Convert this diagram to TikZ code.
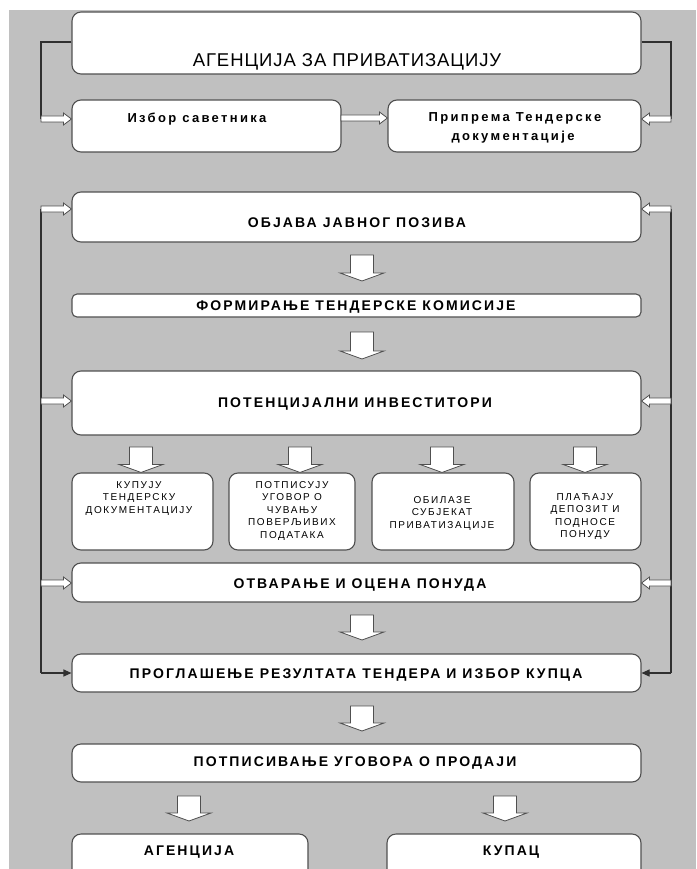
\documentclass[tikz,border=0pt]{standalone}
\usepackage{fontspec}
\setmainfont{Liberation Sans}
\newfontfamily\titlef[LetterSpace=5]{Liberation Sans}
\newfontfamily\headf[LetterSpace=15]{Liberation Sans}
\newfontfamily\lowf[LetterSpace=18]{Liberation Sans}
\newfontfamily\smallf[LetterSpace=16]{Liberation Sans}
\usetikzlibrary{arrows.meta,calc}
\definecolor{bgc}{HTML}{C0C0C0}
\definecolor{edgec}{HTML}{505050}
\definecolor{linec}{HTML}{303030}
\tikzset{
  box/.style={draw=edgec, line width=1.1pt, fill=white, rounded corners=9pt, inner sep=0pt},
  thinbox/.style={box, rounded corners=5pt},
  conn/.style={draw=linec, line width=1.1pt},
  blk/.style={draw=edgec, line width=0.8pt, fill=white, line join=miter},
  headt/.style={font=\headf\bfseries\fontsize{14}{16}\selectfont, inner sep=0pt, anchor=base},
  lowt/.style={font=\lowf\bfseries\fontsize{13}{15}\selectfont, inner sep=0pt, anchor=base},
  titlet/.style={font=\titlef\fontsize{18.5}{20}\selectfont, inner sep=0pt, anchor=base},
  smallt/.style={font=\smallf\fontsize{10}{12.5}\selectfont, align=center, inner sep=0pt, anchor=north},
}
\newcommand\mkbox[6][box]{%
  \node[#1, minimum width={(#4-#2)*1pt}, minimum height={(#5-#3)*1pt}] (#6) at ({(#2+#4)/2},{(#3+#5)/2}) {};}
\newcommand\harrow[2]{%
  \path[blk] let \p1=(#1), \p2=(#2), \n1={\x2-8pt*sign(\x2-\x1)} in
   (\x1,\y1+3pt) -- (\n1,\y1+3pt) -- (\n1,\y1+6pt) -- (\x2,\y1) -- (\n1,\y1-6pt) -- (\n1,\y1-3pt) -- (\x1,\y1-3pt) -- cycle;}
\newcommand\varrow[2]{%
  \path[blk] let \p1=(#1), \p2=(#2) in
   (\x1-11.5pt,\y1) -- (\x1+11.5pt,\y1) -- (\x1+11.5pt,\y2+8pt) -- (\x1+22pt,\y2+8pt) -- (\x1,\y2) -- (\x1-22pt,\y2+8pt) -- (\x1-11.5pt,\y2+8pt) -- cycle;}
\begin{document}
\begin{tikzpicture}[x=1pt,y=-1pt]
\useasboundingbox (0,0) rectangle (696,869);
\fill[white] (0,0) rectangle (696,869);
\fill[bgc] (9,10) rectangle (696,869);
\begin{scope}
\clip (0,0) rectangle (696,869);
% boxes
\mkbox{72}{12}{641}{74}{title}
\mkbox{72}{100}{341}{152}{izbor}
\mkbox{388}{100}{641}{152}{prip}
\mkbox{72}{192}{641}{242}{objava}
\mkbox[thinbox]{72}{294}{641}{317}{form}
\mkbox{72}{371}{641}{435}{poten}
\mkbox{72}{473}{213}{550}{sa}
\mkbox{229}{473}{355}{550}{sb}
\mkbox{372}{473}{514}{550}{sc}
\mkbox{530}{473}{641}{550}{sd}
\mkbox{72}{563}{641}{602}{otvar}
\mkbox{72}{654}{641}{692}{progl}
\mkbox{72}{744}{641}{782}{potp}
\mkbox{72}{834}{308}{900}{agen}
\mkbox{387}{834}{641}{900}{kupac}
\end{scope}
% texts
\node[titlet] (titlet) at (347,66.5) {АГЕНЦИЈА ЗА ПРИВАТИЗАЦИЈУ};
\node[lowt] (izbort) at (197,122.5) {Избор саветника};
\node[lowt] (pript1) at (515,121.5) {Припрема Тендерске};
\node[lowt] (pript2) at (513,140.5) {документације};
\node[headt] (objavat) at (357,227) {ОБЈАВА ЈАВНОГ ПОЗИВА};
\node[headt] (formt) at (356,310.5) {ФОРМИРАЊЕ ТЕНДЕРСКЕ КОМИСИЈЕ};
\node[headt] (potent) at (355,407) {ПОТЕНЦИЈАЛНИ ИНВЕСТИТОРИ};
\node[smallt] (sat) at (139,481) {КУПУЈУ\\ТЕНДЕРСКУ\\ДОКУМЕНТАЦИЈУ};
\node[smallt] (sbt) at (292,481) {ПОТПИСУЈУ\\УГОВОР О\\ЧУВАЊУ\\ПОВЕРЉИВИХ\\ПОДАТАКА};
\node[smallt] (sct) at (442,496) {ОБИЛАЗЕ\\СУБЈЕКАТ\\ПРИВАТИЗАЦИЈЕ};
\node[smallt] (sdt) at (585,493) {ПЛАЋАЈУ\\ДЕПОЗИТ И\\ПОДНОСЕ\\ПОНУДУ};
\node[headt] (otvart) at (360,588.5) {ОТВАРАЊЕ И ОЦЕНА ПОНУДА};
\node[headt] (proglt) at (356,678.5) {ПРОГЛАШЕЊЕ РЕЗУЛТАТА ТЕНДЕРА И ИЗБОР КУПЦА};
\node[headt] (potpt) at (355,766.5) {ПОТПИСИВАЊЕ УГОВОРА О ПРОДАЈИ};
\node[headt] (agent) at (189,855) {АГЕНЦИЈА};
\node[headt] (kupact) at (511,855) {КУПАЦ};
% side connector coordinates
\coordinate (L1) at (41,119);
\coordinate (R1) at (671,119);
\coordinate (M1) at (341,118);
\coordinate (L2) at (41,209);
\coordinate (L3) at (41,401);
\coordinate (L4) at (41,583);
\coordinate (L5) at (41,673);
\coordinate (R2) at (671,209);
\coordinate (R3) at (671,401);
\coordinate (R4) at (671,583);
\coordinate (R5) at (671,673);
% lines
\draw[conn] (title.west |- 0,42) -| (L1);
\draw[conn] (title.east |- 0,42) -| (R1);
\draw[conn] (L2) -- (L5);
\draw[conn] (R2) -- (R5);
\draw[conn,-{Triangle[length=8pt,width=7pt]}] (L5) -- (progl.west |- L5);
\draw[conn,-{Triangle[length=8pt,width=7pt]}] (R5) -- (progl.east |- R5);
% hollow side arrows
\harrow{L1}{izbor.west |- L1}
\harrow{R1}{prip.east |- R1}
\harrow{M1}{prip.west |- M1}
\harrow{L2}{objava.west |- L2}
\harrow{R2}{objava.east |- R2}
\harrow{L3}{poten.west |- L3}
\harrow{R3}{poten.east |- R3}
\harrow{L4}{otvar.west |- L4}
\harrow{R4}{otvar.east |- R4}
% vertical block arrows
\coordinate (a1s) at (362,255); \coordinate (a1e) at (362,281);
\coordinate (a2s) at (362,332); \coordinate (a2e) at (362,359);
\coordinate (a3s) at (362,615); \coordinate (a3e) at (362,640);
\coordinate (a4s) at (362,706); \coordinate (a4e) at (362,731);
\coordinate (a5s) at (189,796); \coordinate (a5e) at (189,821);
\coordinate (a6s) at (505,796); \coordinate (a6e) at (505,821);
\varrow{a1s}{a1e}
\varrow{a2s}{a2e}
\varrow{a3s}{a3e}
\varrow{a4s}{a4e}
\varrow{a5s}{a5e}
\varrow{a6s}{a6e}
\coordinate (b1s) at (141,447); \varrow{b1s}{sa.north -| b1s}
\coordinate (b2s) at (300,447); \varrow{b2s}{sb.north -| b2s}
\coordinate (b3s) at (442,447); \varrow{b3s}{sc.north -| b3s}
\coordinate (b4s) at (585,447); \varrow{b4s}{sd.north -| b4s}
\end{tikzpicture}
\end{document}
